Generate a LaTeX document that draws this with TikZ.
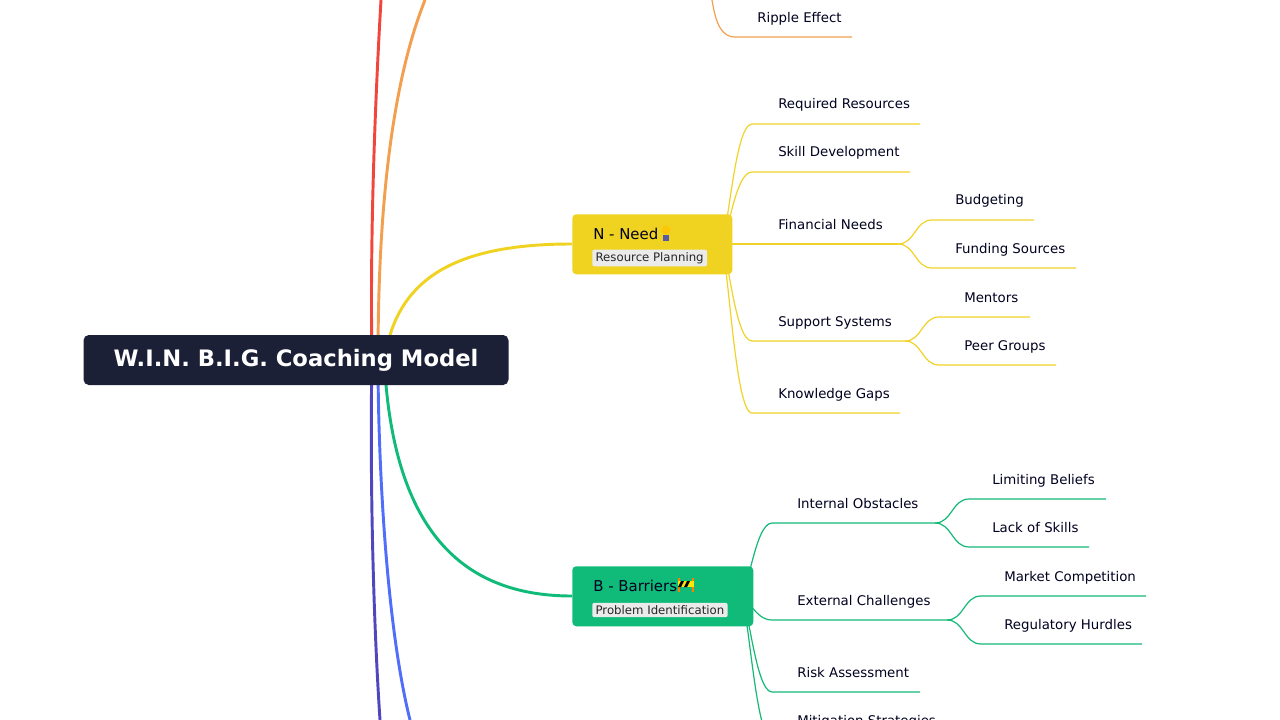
\documentclass[tikz,border=0pt]{standalone}
\usepackage{fontspec}
\setmainfont{DejaVu Sans}
\begin{document}
\begin{tikzpicture}[x=0.75pt,y=-0.75pt,
  lbl/.style={anchor=base west,font=\fontsize{10}{12}\selectfont,text=black!80!blue!60!black,inner sep=0},
  yl/.style={draw={rgb,255:red,240;green,210;blue,40},line width=0.9pt},
  gl/.style={draw={rgb,255:red,20;green,185;blue,120},line width=0.9pt},
  tag/.style={fill=black!8,rounded corners=1.5pt,font=\fontsize{8.8}{10}\selectfont,text=black!85,inner xsep=2.5pt,inner ysep=2pt,anchor=west}]
\useasboundingbox (0,0) rectangle (1280,720);
\clip (0,0) rectangle (1280,720);
\definecolor{myel}{RGB}{240,210,32}
\definecolor{mgrn}{RGB}{16,187,122}
% main branches
\draw[line width=2.2pt,color={rgb,255:red,240;green,70;blue,60}] (381,0) .. controls (374,120) and (370,250) .. (372,360);
\draw[line width=2.2pt,color={rgb,255:red,242;green,160;blue,80}] (425,0) .. controls (385,100) and (378,250) .. (378,360);
\draw[line width=2.2pt,color={rgb,255:red,80;green,70;blue,190}] (380,720) .. controls (372,600) and (370,450) .. (372,360);
\draw[line width=2.2pt,color={rgb,255:red,80;green,110;blue,250}] (410,720) .. controls (385,620) and (378,450) .. (378,360);
\draw[line width=2.2pt,color=myel] (390,335) .. controls (410,270) and (470,244) .. (572,244);
\draw[line width=2.2pt,color=mgrn] (386,385) .. controls (400,540) and (470,596) .. (572,596);
% root
\node[fill={rgb,255:red,28;green,32;blue,54},rounded corners=4pt,minimum width=425*0.75pt,minimum height=50*0.75pt,text=white,font=\bfseries\fontsize{17}{20}\selectfont] (root) at (296,360) {W.I.N. B.I.G. Coaching Model};
% ripple
\draw[line width=0.9pt,color={rgb,255:red,242;green,160;blue,80}] (712,0) .. controls (716,25) and (722,37) .. (735,37) -- (852,37);
\node[lbl] (rip) at (757,23) {Ripple Effect};
% N node
\node[fill=myel,rounded corners=3pt,minimum width=160*0.75pt,minimum height=60*0.75pt,anchor=north west] (N) at (572,214) {};
\node[lbl,font=\fontsize{11.2}{13}\selectfont] (Nt) at (593,239) {N - Need};
\fill[yellow!60!orange] (666,230) circle[radius=4.5];
\fill[gray!70!blue] (663,235) rectangle (669,241);
\node[tag] (Ntag) at (592,258) {Resource Planning};
% B node
\node[fill=mgrn,rounded corners=3pt,minimum width=181*0.75pt,minimum height=60*0.75pt,anchor=north west] (B) at (572,566) {};
\node[lbl,font=\fontsize{11.2}{13}\selectfont] (Bt) at (593,591) {B - Barriers};
\begin{scope}[shift={(686,585)}]
\fill[orange] (-8,-7) rectangle (-6,7); \fill[orange] (6,-7) rectangle (8,7);
\fill[yellow!90!orange] (-8,-4) rectangle (8,2);
\fill[black] (-5,-4)--(-2,-4)--(-5,2)--(-8,2)--cycle; \fill[black] (1,-4)--(4,-4)--(1,2)--(-2,2)--cycle;
\end{scope}
\node[tag] (Btag) at (592,610) {Problem Identification};
% yellow children
\foreach \y/\e/\t in {124/920/Required Resources,172/910/Skill Development,244/898/Financial Needs,341/905/Support Systems,413/900/Knowledge Gaps}{
  \draw[yl] (720,244) .. controls (728,244) and (734,\y) .. (752,\y) -- (\e,\y);
  \node[lbl] at (778,\y-15) {\t};}
\foreach \y/\e/\t in {220/1034/Budgeting,268/1076/Funding Sources}{
  \draw[yl] (898,244) .. controls (915,244) and (915,\y) .. (932,\y) -- (\e,\y);
  \node[lbl] at (955,\y-15) {\t};}
\foreach \y/\e/\t in {317/1030/Mentors,365/1056/Peer Groups}{
  \draw[yl] (905,341) .. controls (922,341) and (922,\y) .. (939,\y) -- (\e,\y);
  \node[lbl] at (964,\y-15) {\t};}
% green children
\foreach \y/\e/\t in {523/935/Internal Obstacles,620/947/External Challenges,692/920/Risk Assessment,740/950/Mitigation Strategies}{
  \draw[gl] (740,596) .. controls (748,596) and (755,\y) .. (772,\y) -- (\e,\y);
  \node[lbl] at (797,\y-15) {\t};}
\foreach \y/\e/\t in {499/1106/Limiting Beliefs,547/1089/Lack of Skills}{
  \draw[gl] (935,523) .. controls (952,523) and (952,\y) .. (969,\y) -- (\e,\y);
  \node[lbl] at (992,\y-15) {\t};}
\foreach \y/\e/\t in {596/1146/Market Competition,644/1142/Regulatory Hurdles}{
  \draw[gl] (947,620) .. controls (964,620) and (964,\y) .. (981,\y) -- (\e,\y);
  \node[lbl] at (1004,\y-15) {\t};}
\end{tikzpicture}
\end{document}
